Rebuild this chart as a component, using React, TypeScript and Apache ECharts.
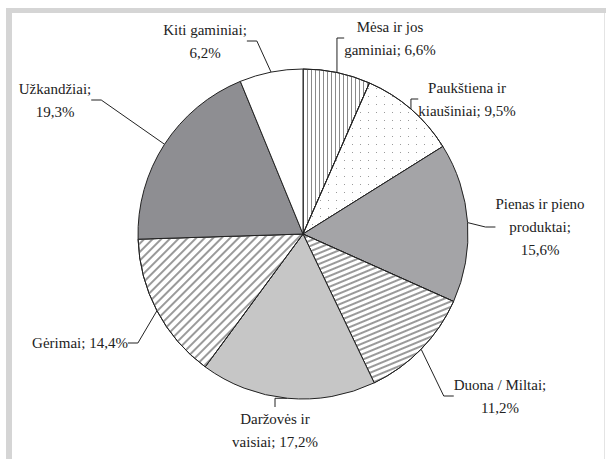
import React, { useEffect, useRef } from "react";
import * as echarts from "echarts";

const categories = [
  "Mėsa ir jos\ngaminiai",
  "Paukštiena ir\nkiaušiniai",
  "Pienas ir pieno\nproduktai",
  "Duona / Miltai",
  "Daržovės ir\nvaisiai",
  "Gėrimai",
  "Užkandžiai",
  "Kiti gaminiai",
];
const shares = [6.6, 9.5, 15.6, 11.2, 17.2, 14.4, 19.3, 6.2];
const valueOnNewLine = [false, false, true, true, false, false, true, true];

const fills = ["#ffffff", "#ffffff", "#a4a4a7", "#ffffff", "#c6c6c6", "#ffffff", "#8e8e92", "#ffffff"];
const decals: any[] = [
  { symbol: "rect", symbolSize: 1, color: "#8a8a8a", dashArrayX: [1, 0], dashArrayY: [1, 3], rotation: Math.PI / 2 },
  { symbol: "rect", symbolSize: 1, color: "#9a9a9a", dashArrayX: [1, 7], dashArrayY: [1, 7], rotation: 0 },
  null,
  { symbol: "rect", symbolSize: 1, color: "#9a9a9a", dashArrayX: [1, 0], dashArrayY: [2, 3], rotation: -Math.PI / 8 },
  null,
  { symbol: "rect", symbolSize: 1, color: "#9a9a9a", dashArrayX: [1, 0], dashArrayY: [2, 4], rotation: -Math.PI / 4 },
  null,
  null,
];

// label anchor layout (center of each label block)
const labelPos: [number, number][] = [
  [390, 38],
  [467, 99],
  [540, 227],
  [500, 396],
  [275, 430],
  [80, 343],
  [55, 100],
  [205, 41],
];

const FONT = "Liberation Serif";

export default function App() {
  const ref = useRef<HTMLDivElement>(null);
  useEffect(() => {
    const chart = echarts.init(ref.current!, null, { renderer: "svg" });
    chart.setOption({
      animation: false,
      backgroundColor: "#ffffff",
      textStyle: { fontFamily: FONT },
      graphic: [
        { type: "rect", shape: { x: 6, y: 8, width: 6, height: 451 }, style: { fill: "#d5d5d5" }, silent: true },
        { type: "rect", shape: { x: 6, y: 8, width: 600, height: 5 }, style: { fill: "#d5d5d5" }, silent: true },
        { type: "rect", shape: { x: 604, y: 13, width: 1, height: 446 }, style: { fill: "#e4e4e4" }, silent: true },
      ],
      series: [
        {
          type: "pie",
          center: [303, 234],
          radius: 165,
          startAngle: 90,
          clockwise: true,
          avoidLabelOverlap: false,
          itemStyle: { borderColor: "#222222", borderWidth: 1 },
          label: {
            show: true,
            position: "outside",
            fontFamily: FONT,
            fontSize: 15,
            lineHeight: 23,
            color: "#222222",
            align: "center",
            formatter: (p: any) =>
              `${p.name};${valueOnNewLine[p.dataIndex] ? "\n" : " "}${shares[p.dataIndex].toFixed(1).replace(".", ",")}%`,
          },
          labelLine: { show: true, length: 12, length2: 10, lineStyle: { color: "#222222", width: 1 } },
          labelLayout: (p: any) => {
            const [x, y] = labelPos[p.dataIndex];
            return { x, y, align: "center", verticalAlign: "middle" };
          },
          data: categories.map((name, i) => ({
            name,
            value: shares[i],
            itemStyle: { color: fills[i], decal: decals[i] || undefined },
          })),
        },
      ],
    });
    return () => chart.dispose();
  }, []);
  return (
    <div
      ref={ref}
      style={{ position: "absolute", left: 0, top: 0, width: 606, height: 459 }}
    />
  );
}
